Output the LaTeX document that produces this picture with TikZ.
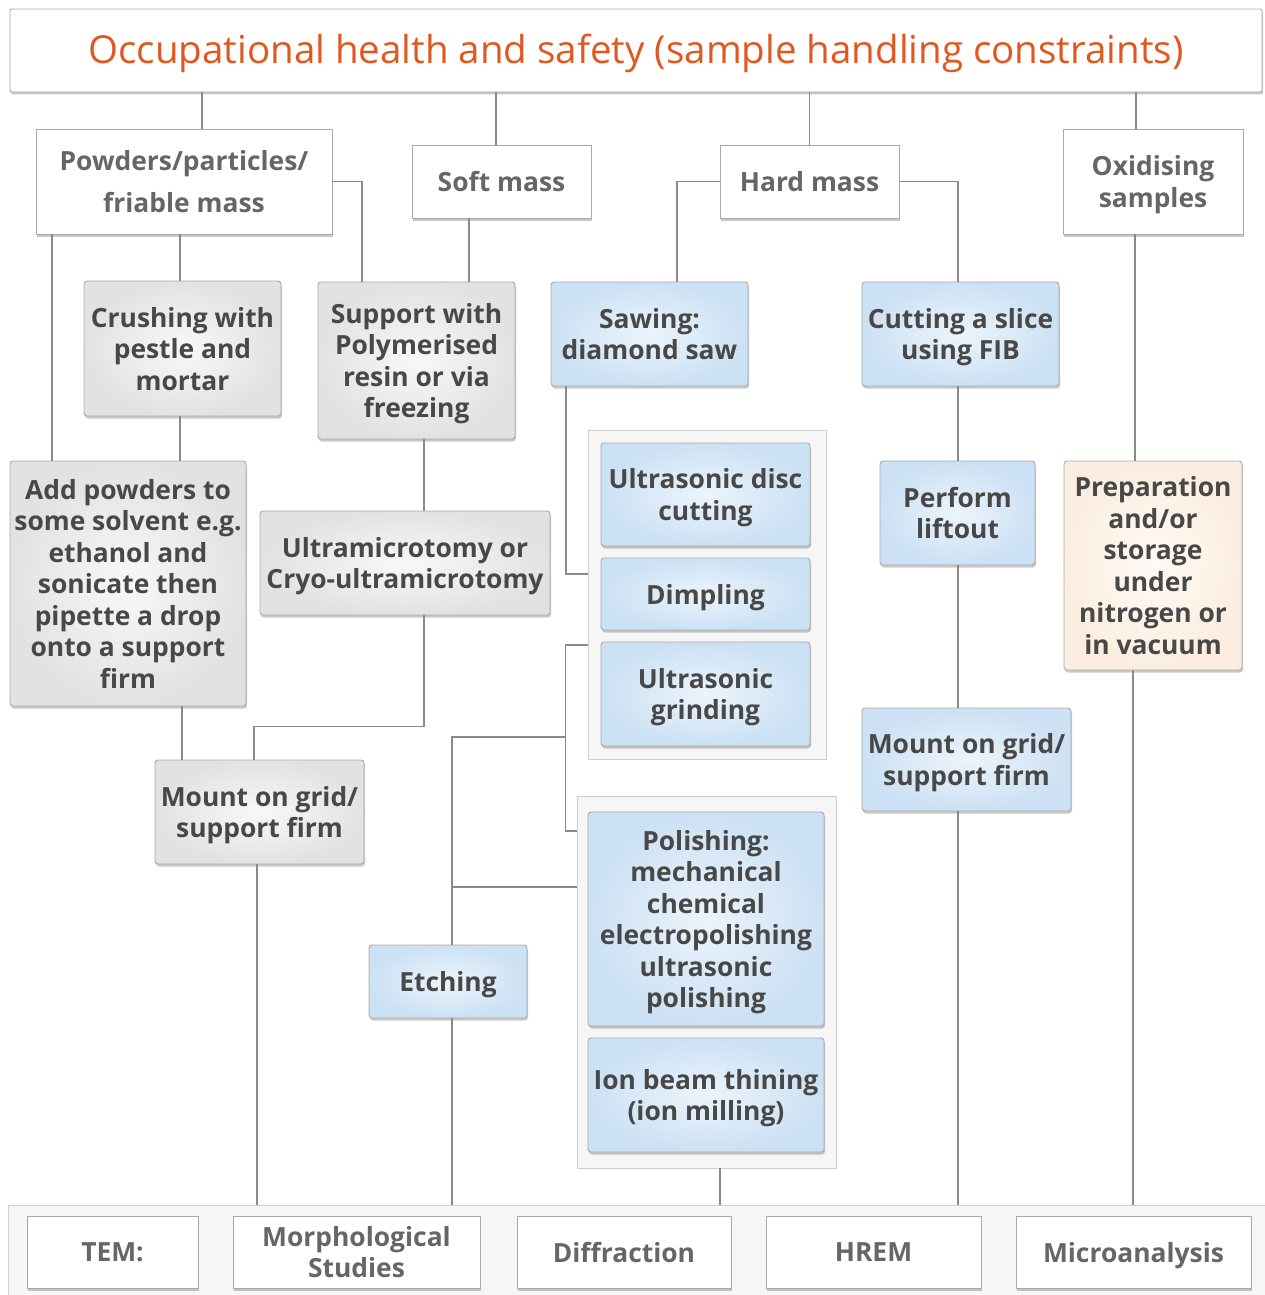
\documentclass[tikz,border=0pt]{standalone}
\usepackage{fontspec}
\setmainfont{Open Sans}
\usetikzlibrary{shadows,calc}
\definecolor{conncol}{HTML}{8A8A8A}
\definecolor{bordcol}{HTML}{A9A9A9}
\definecolor{txtdark}{HTML}{484848}
\definecolor{txtgray}{HTML}{666666}
\definecolor{titlecol}{HTML}{E0581F}
\definecolor{blueout}{HTML}{CCE1F4}
\definecolor{bluein}{HTML}{ECF4FB}
\definecolor{grayout}{HTML}{E2E2E2}
\definecolor{grayin}{HTML}{F8F8F8}
\definecolor{beigeout}{HTML}{FBEEE0}
\definecolor{beigein}{HTML}{FFFAF5}
\definecolor{grpfill}{HTML}{F6F6F6}
\definecolor{grpbord}{HTML}{CFCFCF}
\tikzset{
  x=1pt, y=-1pt,
  sz/.style 2 args={minimum width=#1pt, minimum height=#2pt},
  base/.style={draw=bordcol, line width=0.9pt, inner sep=0pt, align=center,
    font=\bfseries\fontsize{26.4}{31.5}\selectfont, text depth=0pt},
  shad/.style={drop shadow={shadow xshift=1pt, shadow yshift=-2.5pt, opacity=0.3, fill=black!70}},
  topbox/.style={base, fill=white, text=txtgray, shad},
  bluebox/.style={base, rounded corners=3pt, inner color=bluein, outer color=blueout, text=txtdark, shad},
  graybox/.style={base, rounded corners=3pt, inner color=grayin, outer color=grayout, text=txtdark, shad},
  beigebox/.style={base, rounded corners=3pt, inner color=beigein, outer color=beigeout, text=txtdark, shad},
  grpbox/.style={draw=grpbord, line width=0.9pt, fill=grpfill, inner sep=0pt},
  conn/.style={draw=conncol, line width=1.1pt},
}
\begin{document}
\begin{tikzpicture}
\useasboundingbox (0,0) rectangle (1264,1295);
% bottom panel and groups
\node[grpbox, sz={1262}{95}] (panel) at (639,1252.5) {};
\node[grpbox, sz={238}{329}] (grp1) at (707,594.5) {};
\node[grpbox, sz={259}{372}] (grp2) at (706.5,982) {};
% title
\node[topbox, rounded corners=2pt, sz={1252}{83}, text=titlecol,
  font=\fontsize{38.5}{44}\selectfont, text height=35.5pt, text depth=9pt] (title) at (636,50.5)
  {Occupational health and safety (sample handling constraints)};
% level 2
\node[topbox, sz={296}{105}, font=\bfseries\fontsize{26.4}{42}\selectfont] (pow) at (184,181.5) {Powders/particles/\\friable mass};
\node[topbox, sz={179}{73}] (soft) at (501.5,181.5) {Soft mass};
\node[topbox, sz={179}{73}] (hard) at (809.5,181.5) {Hard mass};
\node[topbox, sz={180}{105}] (oxi) at (1153,181.5) {Oxidising\\samples};
% level 3
\node[graybox, sz={197}{135}] (crush) at (182.5,348.5) {Crushing with\\pestle and\\mortar};
\node[graybox, sz={197}{157}] (supp) at (416.5,360.5) {Support with\\Polymerised\\resin or via\\freezing};
\node[bluebox, sz={197}{104}] (saw) at (649.5,334) {Sawing:\\diamond saw};
\node[bluebox, sz={197}{104}] (cut) at (960.5,334) {Cutting a slice\\using FIB};
% level 4
\node[graybox, sz={236}{245}] (add) at (128,583.5) {Add powders to\\some solvent e.g.\\ethanol and\\sonicate then\\pipette a drop\\onto a support\\firm};
\node[graybox, sz={290}{104}] (ultra) at (405,563) {Ultramicrotomy or\\Cryo-ultramicrotomy};
\node[bluebox, sz={209}{103}] (udc) at (705.5,494.5) {Ultrasonic disc\\cutting};
\node[bluebox, sz={209}{72}] (dimp) at (705.5,594) {Dimpling};
\node[bluebox, sz={209}{104}] (ugr) at (705.5,694) {Ultrasonic\\grinding};
\node[bluebox, sz={155}{104}] (lift) at (957.5,513) {Perform\\liftout};
\node[beigebox, sz={178}{209}] (prep) at (1153,565.5) {Preparation\\and/or\\storage\\under\\nitrogen or\\in vacuum};
% level 5
\node[graybox, sz={209}{104}] (mountg) at (259.5,812) {Mount on grid/\\support firm};
\node[bluebox, sz={209}{103}] (mountb) at (966.5,759.5) {Mount on grid/\\support firm};
\node[bluebox, sz={236}{214}] (pol) at (706,919) {Polishing:\\mechanical\\chemical\\electropolishing\\ultrasonic\\polishing};
\node[bluebox, sz={236}{114}] (ion) at (706,1095) {Ion beam thining\\(ion milling)};
\node[bluebox, sz={158}{73}] (etch) at (448,981.5) {Etching};
% bottom row
\node[topbox, sz={171}{72}] (tem) at (112.5,1252) {TEM:};
\node[topbox, sz={247}{72}] (morph) at (356.5,1252) {Morphological\\Studies};
\node[topbox, sz={214}{72}] (diff) at (624,1252) {Diffraction};
\node[topbox, sz={215}{72}] (hrem) at (873.5,1252) {HREM};
\node[topbox, sz={235}{72}] (micro) at (1133.5,1252) {Microanalysis};
% connectors
\draw[conn] ([xshift=18pt]pow.north) -- ([xshift=18pt]pow.north |- title.south);
\draw[conn] ([xshift=-5.5pt]soft.north) -- ([xshift=-5.5pt]soft.north |- title.south);
\draw[conn] (hard.north) -- (hard.north |- title.south);
\draw[conn] ([xshift=-17pt]oxi.north) -- ([xshift=-17pt]oxi.north |- title.south);
\draw[conn] ([xshift=-2.5pt]crush.north) -- ([xshift=-2.5pt]crush.north |- pow.south);
\draw[conn] (pow.east) -| ([xshift=-54.5pt]supp.north);
\draw[conn] ([xshift=52.5pt]supp.north) -- ([xshift=52.5pt]supp.north |- soft.south);
\draw[conn] ([xshift=-76pt]add.north) -- ([xshift=-76pt]add.north |- pow.south);
\draw[conn] (hard.west) -| ([xshift=27.5pt]saw.north);
\draw[conn] (hard.east) -| ([xshift=-2.5pt]cut.north);
\draw[conn] ([xshift=52pt]add.north) -- ([xshift=52pt]add.north |- crush.south);
\draw[conn] ([xshift=19pt]ultra.north) -- ([xshift=19pt]ultra.north |- supp.south);
\draw[conn] ([xshift=-83.5pt]saw.south) |- ([yshift=20.5pt]grp1.west);
\draw[conn] ([xshift=0.5pt]lift.north) -- ([xshift=0.5pt]lift.north |- cut.south);
\draw[conn] ([xshift=-18pt]prep.north) -- ([xshift=-18pt]prep.north |- oxi.south);
\draw[conn] ([xshift=-77.5pt]mountg.north) -- ([xshift=-77.5pt]mountg.north |- add.south);
\draw[conn] ([xshift=19pt]ultra.south) -- ++(0,111) -| ([xshift=-5.5pt]mountg.north);
\draw[conn] ([yshift=-50.5pt]grp1.west) -- ++(-22,0) |- ([yshift=151pt]grp2.west);
\draw[conn] ([yshift=-50.5pt]grp1.west) -- ++(-22,0) -- ++(0,92) -| ([xshift=4pt]etch.north);
\draw[conn] ([yshift=95pt]grp2.west) -| ([xshift=4pt]etch.north);
\draw[conn] ([xshift=4pt]etch.south) -- ([xshift=4pt]etch.south |- panel.north);
\draw[conn] ([xshift=-2.5pt]mountg.south) -- ([xshift=-2.5pt]mountg.south |- panel.north);
\draw[conn] ([xshift=13.5pt]grp2.south) -- ([xshift=13.5pt]grp2.south |- panel.north);
\draw[conn] ([xshift=0.5pt]lift.south) -- ([xshift=0.5pt]lift.south |- mountb.north);
\draw[conn] ([xshift=-8.5pt]mountb.south) -- ([xshift=-8.5pt]mountb.south |- panel.north);
\draw[conn] ([xshift=-20pt]prep.south) -- ([xshift=-20pt]prep.south |- panel.north);
\end{tikzpicture}
\end{document}
